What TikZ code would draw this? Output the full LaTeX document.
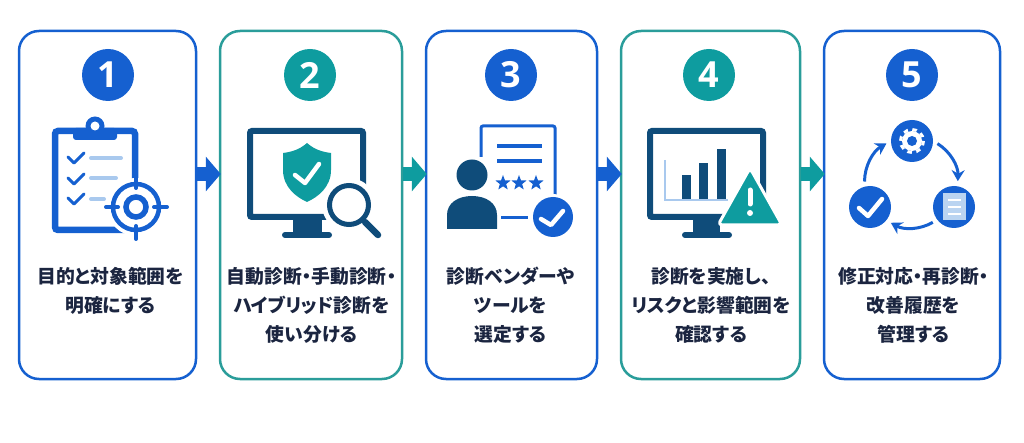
\documentclass[tikz,border=0pt]{standalone}
\usepackage{fontspec}
\setmainfont{Noto Sans CJK JP}[RawFeature=+palt]
\newfontfamily\numfont{Open Sans}
\usetikzlibrary{arrows.meta,shapes.geometric,math}

\definecolor{stepblue}{HTML}{1560D0}
\definecolor{stepteal}{HTML}{0E9C9F}
\definecolor{edgeteal}{HTML}{2A9D9A}
\definecolor{stepnavy}{HTML}{0F4C7A}
\definecolor{steppale}{HTML}{A9C9EE}
\definecolor{stepink}{HTML}{1B2540}

\tikzset{
  stepbox/.style={draw, line width=2.5, rounded corners=20, minimum height=348, inner sep=0},
  numdisc/.style={circle, minimum size=52, inner sep=0, text=white, font=\numfont\bfseries\fontsize{36}{36}\selectfont},
  steptext/.style={anchor=north, align=center, inner sep=0, text=stepink, font=\bfseries\fontsize{18.8}{29}\selectfont},
  flow/.style={line width=14, shorten >=-2, -{Triangle[length=15,width=34]}},
  tick/.style={line width=#1, line cap=round, line join=round},
  disc/.style={circle, fill=stepblue, minimum size=42, inner sep=0},
  loopline/.style={draw=stepblue, line width=3, -{Stealth[length=11,width=13]}, shorten >=5, shorten <=5},
  scorestar/.style={star, star points=5, star point ratio=2.4, fill=stepblue, minimum size=16, inner sep=0}
}

\begin{document}
\begin{tikzpicture}[x=1pt, y=-1pt]
  \tikzmath{\boxy = 205; \flowy = 174; \numy = 75; \capy = 267;}
  \useasboundingbox (0,0) rectangle (1024,443);

  \node[stepbox, draw=stepblue, minimum width=177] (box1) at (107.5,\boxy) {};
  \node[stepbox, draw=edgeteal, minimum width=182] (box2) at (311,\boxy) {};
  \node[stepbox, draw=stepblue, minimum width=171] (box3) at (511.5,\boxy) {};
  \node[stepbox, draw=edgeteal, minimum width=179] (box4) at (710.5,\boxy) {};
  \node[stepbox, draw=stepblue, minimum width=176] (box5) at (912,\boxy) {};

  \coordinate (flowline) at (0,\flowy);
  \draw[flow, stepblue] (box1.east |- flowline) -- (box2.west |- flowline);
  \draw[flow, stepteal] (box2.east |- flowline) -- (box3.west |- flowline);
  \draw[flow, stepblue] (box3.east |- flowline) -- (box4.west |- flowline);
  \draw[flow, stepteal] (box4.east |- flowline) -- (box5.west |- flowline);

  \node[numdisc, fill=stepblue] (num1) at (108,\numy) {1};
  \node[numdisc, fill=stepteal] (num2) at (310,\numy) {2};
  \node[numdisc, fill=stepblue] (num3) at (511,\numy) {3};
  \node[numdisc, fill=stepteal] (num4) at (709,\numy) {4};
  \node[numdisc, fill=stepblue] (num5) at (912,\numy) {5};

  \node[steptext] (text1) at (110.5,\capy) {目的と対象範囲を\\明確にする};
  \node[steptext] (text2) at (311.5,\capy) {自動診断・手動診断・\\ハイブリッド診断を\\使い分ける};
  \node[steptext] (text3) at (510.5,\capy) {診断ベンダーや\\ツールを\\選定する};
  \node[steptext] (text4) at (711,\capy) {診断を実施し、\\リスクと影響範囲を\\確認する};
  \node[steptext] (text5) at (913.5,\capy) {修正対応・再診断・\\改善履歴を\\管理する};

  \draw[line width=6.5, stepblue, rounded corners=3] (55,131) rectangle (135,230);
  \fill[stepblue, rounded corners=3] (73,128) rectangle (117,140);
  \fill[stepblue] (95,126) circle (9.5);
  \fill[white] (95,126) circle (4.5);
  \draw[tick=3, stepblue] (68,157) -- (74,163) -- (84,153);
  \draw[tick=3, stepblue] (68,178) -- (74,184) -- (84,174);
  \draw[tick=3, stepblue] (68,198) -- (74,204) -- (84,194);
  \draw[tick=4, steppale] (91,158) -- (121,158);
  \draw[tick=4, steppale] (91,178) -- (116,178);
  \draw[tick=4, steppale] (91,199) -- (104,199);
  \fill[white] (136,207) circle (29);
  \draw[line width=4.5, stepblue] (136,207) circle (23);
  \draw[line width=5.5, stepblue] (136,207) circle (10);
  \draw[tick=4, stepblue] (106,207) -- (118,207);
  \draw[tick=4, stepblue] (154,207) -- (167,207);
  \draw[tick=4, stepblue] (136,175) -- (136,188);
  \draw[tick=4, stepblue] (136,226) -- (136,239);

  \draw[line width=6, stepnavy, rounded corners=2] (250,131) rectangle (363,217);
  \fill[stepnavy] (293,220) rectangle (322,233);
  \draw[tick=6, stepnavy] (285,235) -- (329,235);
  \fill[stepteal] (307,143) .. controls (315,150) and (323,152) .. (331,153) -- (331,170)
    .. controls (331,187) and (318,197) .. (307,202)
    .. controls (296,197) and (283,187) .. (283,170) -- (283,153)
    .. controls (291,152) and (299,150) .. (307,143) -- cycle;
  \draw[tick=4.5, white] (295,175) -- (305,183) -- (319,164);
  \fill[white] (349,205) circle (27);
  \draw[line width=5, stepnavy] (349,205) circle (19.5);
  \draw[tick=6.5, stepnavy] (365,222) -- (378,235);

  \draw[line width=3, stepblue, rounded corners=2] (481,157) -- (481,126) -- (555,126) -- (555,195);
  \draw[line width=4, stepblue] (497,146) -- (542,146);
  \draw[line width=4, stepblue] (497,161) -- (542,161);
  \node[scorestar] (star1) at (503,183) {};
  \node[scorestar] (star2) at (519,183) {};
  \node[scorestar] (star3) at (536,183) {};
  \fill[stepnavy] (472,175) circle (15.5);
  \fill[stepnavy] (447,229) -- (447,215) .. controls (447,203) and (458,196) .. (472,196)
    .. controls (486,196) and (497,203) .. (497,215) -- (497,229) -- cycle;
  \draw[line width=3, stepblue] (501,218) -- (528,218);
  \fill[white] (553,217) circle (23);
  \fill[stepblue] (553,217) circle (20);
  \draw[tick=4.5, white] (541,219) -- (551,225) -- (563,211);

  \draw[line width=6, stepnavy, rounded corners=2] (650,131) rectangle (763,217);
  \fill[stepnavy] (693,220) rectangle (720,233);
  \draw[tick=6, stepnavy] (685,235) -- (729,235);
  \draw[line width=2.5, steppale] (665,160) -- (665,200) -- (728,200);
  \fill[stepnavy] (682,175) rectangle (691,199);
  \fill[stepnavy] (699,163) rectangle (708,199);
  \fill[stepnavy] (717,149) rectangle (726,199);
  \draw[fill=stepteal, draw=white, line width=3, line join=round, rounded corners=4]
    (750,168) -- (782,225) -- (718,225) -- cycle;
  \draw[line width=5, white, line cap=round] (750,190) -- (750,204);
  \fill[white] (750,213) circle (3);

  \node[disc] (gear) at (912,141) {};
  \node[disc] (sheet) at (954,207) {};
  \node[disc] (done) at (870,207) {};
  \draw[loopline] (gear.0) to[bend left=30] (sheet.80);
  \draw[loopline] (sheet.217) to[bend left=30] (done.321);
  \draw[loopline] (done.105) to[bend left=30] (gear.180);
  \fill[white] (gear.center) circle (10);
  \draw[white, line width=3, dash pattern=on 4.5 off 4.53] (gear.center) circle (11.5);
  \fill[stepblue] (gear.center) circle (5);
  \fill[steppale!80!white] (943,193) rectangle (966,220);
  \draw[line width=2, white] (948,200) -- (961,200);
  \draw[line width=2, white] (948,207) -- (961,207);
  \draw[line width=2, white] (948,214) -- (961,214);
  \draw[tick=4.5, white] (859,208) -- (868,216) -- (882,199);
\end{tikzpicture}
\end{document}
